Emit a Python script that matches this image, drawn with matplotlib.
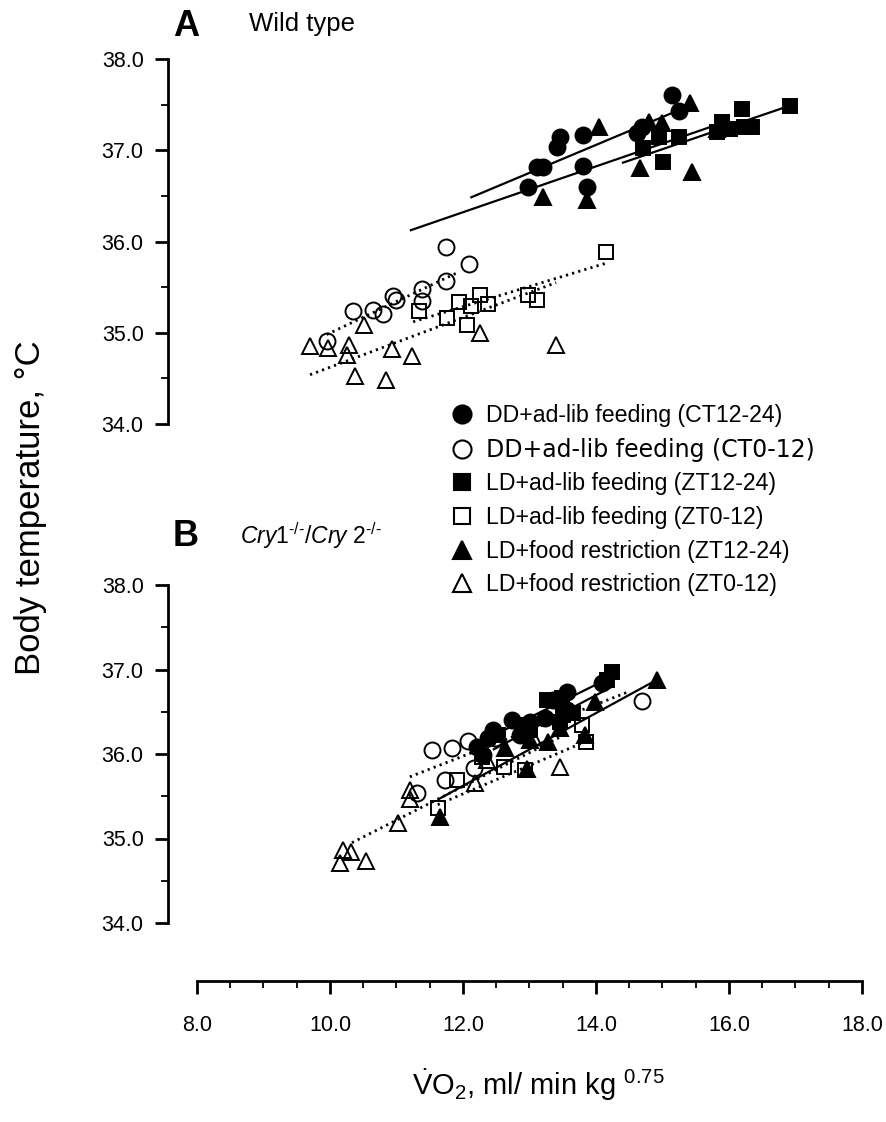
import matplotlib
matplotlib.use('Agg')
import matplotlib.pyplot as plt
from matplotlib.lines import Line2D
from matplotlib.ticker import MultipleLocator

plt.rcParams['font.family'] = ['Liberation Sans', 'DejaVu Sans']
plt.rcParams['mathtext.fontset'] = 'custom'
plt.rcParams['mathtext.rm'] = 'Liberation Sans'
plt.rcParams['mathtext.it'] = 'Liberation Sans:italic'
plt.rcParams['mathtext.bf'] = 'Liberation Sans:bold'

# ---------------- data ----------------
LABELS = ['DD+ad-lib feeding (CT12-24)', 'DD+ad-lib feeding (CT0-12)',
          'LD+ad-lib feeding (ZT12-24)', 'LD+ad-lib feeding (ZT0-12)',
          'LD+food restriction (ZT12-24)', 'LD+food restriction (ZT0-12)']
MARKERS = ['o', 'o', 's', 's', '^', '^']
FILLED = [True, False, True, False, True, False]

# Panel A (wild type)
A_DD_N_X = [12.98, 13.11, 13.20, 13.41, 13.46, 13.80, 13.80, 13.86, 14.62, 14.69, 15.14, 15.25]
A_DD_N_Y = [36.60, 36.82, 36.82, 37.04, 37.15, 37.17, 36.83, 36.60, 37.19, 37.25, 37.61, 37.43]
A_DD_D_X = [11.74, 12.09, 11.74, 11.38, 11.38, 10.95, 10.99, 10.65, 10.80, 10.35, 9.95]
A_DD_D_Y = [35.94, 35.75, 35.57, 35.48, 35.35, 35.40, 35.36, 35.25, 35.20, 35.24, 34.91]
A_LD_N_X = [14.95, 15.25, 14.71, 15.01, 15.89, 15.82, 16.20, 16.23, 16.35, 16.92, 16.02]
A_LD_N_Y = [37.15, 37.14, 37.03, 36.87, 37.31, 37.20, 37.45, 37.26, 37.26, 37.48, 37.23]
A_LD_D_X = [14.15, 12.98, 13.11, 12.26, 11.94, 12.38, 12.12, 11.34, 11.76, 12.06]
A_LD_D_Y = [35.88, 35.41, 35.36, 35.41, 35.34, 35.31, 35.29, 35.24, 35.16, 35.08]
A_FR_N_X = [13.20, 13.86, 14.05, 14.66, 14.80, 14.99, 15.41, 15.44, 15.82]
A_FR_N_Y = [36.49, 36.45, 37.26, 36.81, 37.31, 37.30, 37.52, 36.76, 37.23]
A_FR_D_X = [9.70, 9.97, 10.29, 10.26, 10.51, 10.38, 10.93, 11.23, 10.84, 12.26, 13.40]
A_FR_D_Y = [34.85, 34.83, 34.87, 34.76, 35.09, 34.53, 34.82, 34.75, 34.48, 35.00, 34.87]

# regression line end points, panel A: (x0, x1, y0, y1)
A_FIT_SOLID = [(12.11, 15.41, 36.48, 37.49), (11.20, 15.86, 36.12, 37.29), (14.39, 16.96, 36.86, 37.50)]
A_FIT_DOTTED = [(9.95, 11.92, 34.98, 35.66), (9.70, 13.40, 34.54, 35.55), (11.25, 14.14, 35.12, 35.76)]

# Panel B (Cry1-/-/Cry2-/-)
B_DD_N_X = [12.21, 12.38, 12.45, 12.74, 13.01, 13.35, 13.56, 13.56, 14.09, 12.30, 12.86, 13.23]
B_DD_N_Y = [36.08, 36.19, 36.28, 36.40, 36.38, 36.64, 36.73, 36.52, 36.84, 35.99, 36.22, 36.43]
B_DD_D_X = [11.53, 11.83, 12.08, 11.73, 11.31, 12.17, 14.69, 12.48]
B_DD_D_Y = [36.05, 36.07, 36.15, 35.69, 35.54, 35.83, 36.63, 36.19]
B_LD_N_X = [12.90, 13.26, 13.49, 13.50, 13.65, 13.46, 14.17, 14.24, 13.01, 12.53]
B_LD_N_Y = [36.34, 36.64, 36.66, 36.46, 36.49, 36.38, 36.88, 36.97, 36.28, 36.22]
B_LD_D_X = [11.62, 11.91, 12.29, 12.62, 12.93, 13.85, 12.95, 13.79]
B_LD_D_Y = [35.36, 35.69, 35.96, 35.85, 35.81, 36.14, 36.25, 36.34]
B_FR_N_X = [11.65, 12.96, 13.28, 13.83, 13.98, 14.92, 12.63, 13.01, 13.46]
B_FR_N_Y = [35.25, 35.82, 36.14, 36.22, 36.62, 36.88, 36.07, 36.17, 36.31]
B_FR_D_X = [10.20, 10.32, 10.15, 10.54, 11.02, 11.20, 11.20, 12.18, 12.36, 13.05, 13.46]
B_FR_D_Y = [34.86, 34.84, 34.71, 34.73, 35.18, 35.57, 35.47, 35.66, 35.93, 36.20, 35.85]

B_FIT_SOLID = [(12.15, 14.10, 36.10, 36.86), (12.45, 14.25, 36.05, 36.80), (11.62, 14.92, 35.46, 36.88)]
B_FIT_DOTTED = [(11.20, 14.47, 35.73, 36.73), (10.33, 13.46, 34.95, 36.20), (11.62, 13.85, 35.40, 36.15)]

Y_TICKS = [34.0, 35.0, 36.0, 37.0, 38.0]
X_TICKS = [8.0, 10.0, 12.0, 14.0, 16.0, 18.0]

# ---------------- figure ----------------
W, H = 887, 1122
fig = plt.figure(figsize=(W / 100, H / 100), dpi=100)


def px_axes(left, right, top, bottom):
    return [left / W, 1 - bottom / H, (right - left) / W, (bottom - top) / H]


axA = fig.add_axes(px_axes(168, 862, 59, 424))
axB = fig.add_axes(px_axes(168, 862, 585, 923))

MS = {'o': 11.5, 's': 10.5, '^': 11.5}

panels = {
    axA: ([(A_DD_N_X, A_DD_N_Y), (A_DD_D_X, A_DD_D_Y), (A_LD_N_X, A_LD_N_Y),
           (A_LD_D_X, A_LD_D_Y), (A_FR_N_X, A_FR_N_Y), (A_FR_D_X, A_FR_D_Y)],
          A_FIT_SOLID, A_FIT_DOTTED),
    axB: ([(B_DD_N_X, B_DD_N_Y), (B_DD_D_X, B_DD_D_Y), (B_LD_N_X, B_LD_N_Y),
           (B_LD_D_X, B_LD_D_Y), (B_FR_N_X, B_FR_N_Y), (B_FR_D_X, B_FR_D_Y)],
          B_FIT_SOLID, B_FIT_DOTTED),
}

for ax, (series, solid, dotted) in panels.items():
    for (x0, x1, y0, y1) in solid:
        ax.plot([x0, x1], [y0, y1], color='black', lw=1.6, solid_capstyle='butt', zorder=3)
    for (x0, x1, y0, y1) in dotted:
        ax.plot([x0, x1], [y0, y1], color='black', lw=2.0, ls=(0, (0.8, 1.5)), zorder=3)
    for (xs, ys), m, f in zip(series, MARKERS, FILLED):
        ax.plot(xs, ys, ls='none', marker=m, ms=MS[m], mfc='black' if f else 'none',
                mec='black', mew=1.4, clip_on=False, zorder=4 if f else 2)
    ax.set_xlim(7.564, 18.0)
    ax.set_ylim(34.0, 38.0)
    for s in ['top', 'right']:
        ax.spines[s].set_visible(False)
    ax.spines['left'].set_linewidth(2.0)
    ax.spines['left'].set_bounds(34.0, 38.0)
    ax.set_yticks(Y_TICKS)
    ax.set_yticklabels(['%.1f' % v for v in Y_TICKS])
    ax.yaxis.set_minor_locator(MultipleLocator(0.5))
    ax.tick_params(axis='y', which='major', direction='out', length=9.5, width=2.0,
                   labelsize=15.5, pad=8)
    ax.tick_params(axis='y', which='minor', direction='out', length=5, width=1.3)
    ax.patch.set_visible(False)

axA.spines['bottom'].set_visible(False)
axA.set_xticks([])

axB.spines['bottom'].set_position(('outward', 42))
axB.spines['bottom'].set_bounds(8.0, 18.0)
axB.spines['bottom'].set_linewidth(2.0)
axB.set_xticks(X_TICKS)
axB.set_xticklabels(['%.1f' % v for v in X_TICKS])
axB.xaxis.set_minor_locator(MultipleLocator(0.5))
axB.tick_params(axis='x', which='major', direction='out', length=9.5, width=2.0,
                labelsize=15.5, pad=15)
axB.tick_params(axis='x', which='minor', direction='out', length=5, width=1.3)

# texts
fig.text(186 / W, 1 - 27 / H, 'A', fontsize=26, fontweight='bold', ha='center', va='center')
fig.text(249 / W, 1 - 24 / H, 'Wild type', fontsize=18.5, ha='left', va='center')
fig.text(186 / W, 1 - 536 / H, 'B', fontsize=26, fontweight='bold', ha='center', va='center')
fig.text(240 / W, 1 - 536 / H, '$\\mathit{Cry}$1$^{\u2010/\u2010}$/$\\mathit{Cry}$ 2$^{\u2010/\u2010}$',
         fontsize=16.5, ha='left', va='center')
fig.text(31 / W, 1 - 508 / H, 'Body temperature, \u00b0C', fontsize=25, rotation=90,
         ha='center', va='center')
fig.text(538 / W, 1 - 1085 / H, r'$\dot{\mathrm{V}}\mathrm{O}_2$, ml/ min kg $^{0.75}$',
         fontsize=21, ha='center', va='center')

# legend
handles = [Line2D([], [], ls='none', marker=m, ms=MS[m] + 1.5, mfc='black' if f else 'white',
                  mec='black', mew=1.5) for m, f in zip(MARKERS, FILLED)]
leg = fig.legend(handles, LABELS, loc='upper left', bbox_to_anchor=(452 / W, 1 - 404 / H),
                 frameon=False, fontsize=16.7, handlelength=0.9, handletextpad=0.55,
                 labelspacing=0.46, borderpad=0, borderaxespad=0)
leg.get_texts()[1].set_fontfamily('DejaVu Sans')
leg.get_texts()[1].set_fontsize(17)

fig.savefig('out.png', dpi=100, facecolor='white')
